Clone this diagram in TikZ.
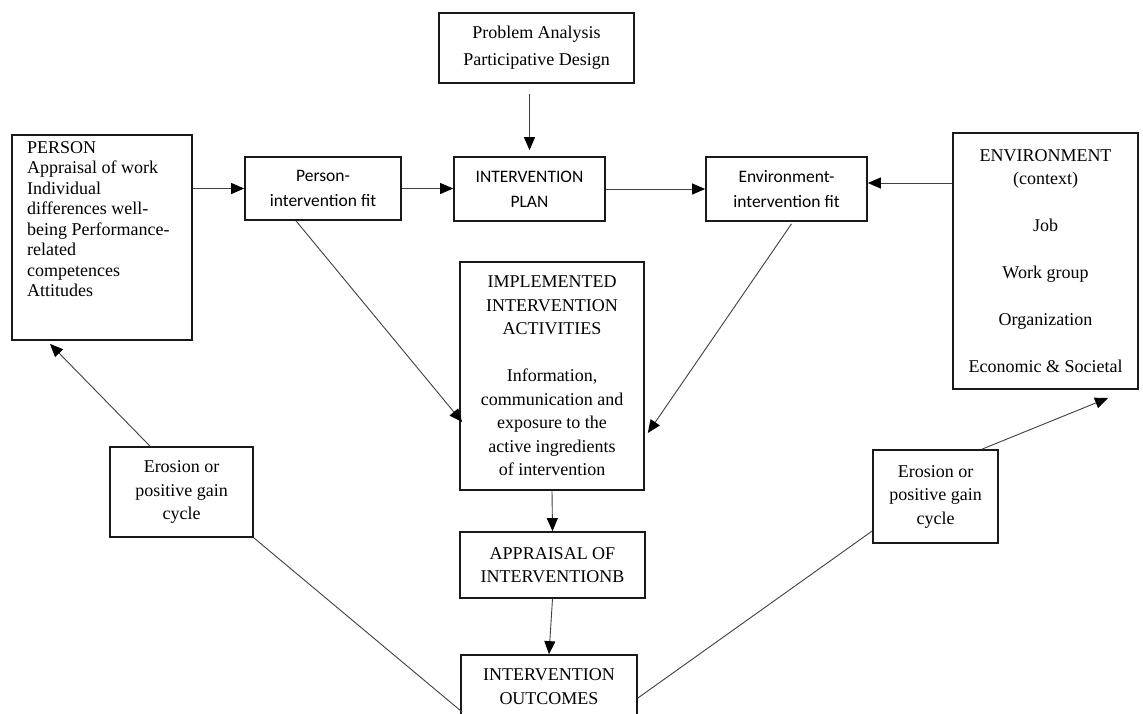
\documentclass[tikz,border=0pt]{standalone}
\usepackage{fontspec}
\setmainfont{Liberation Serif}
\newfontfamily\calib{Carlito}
\usetikzlibrary{arrows.meta,calc}
\begin{document}
\begin{tikzpicture}[x=1pt,y=-1pt,
  box/.style={draw=black!90, line width=1.7pt, align=center, inner sep=0pt,
    font=\fontsize{18}{23.5}\selectfont},
  sbox/.style={box, font=\calib\fontsize{17.5}{25}\selectfont},
  txt/.style={align=center, inner sep=0pt, font=\fontsize{18}{23.5}\selectfont},
  conn/.style={draw=black!75, line width=0.9pt},
  arr/.style={conn, -{Triangle[length=13pt,width=11pt,fill=black,color=black]}},
]
\clip (0,0) rectangle (1143,713);
\fill[white] (0,0) rectangle (1143,713);

% boxes
\node[box, minimum width=195pt, minimum height=70pt, font=\fontsize{18}{27}\selectfont] (top) at (536.5,48) {Problem Analysis\\Participative Design};
\node[box, minimum width=180pt, minimum height=205pt] (person) at (102,237.5) {};
\node[anchor=north west, align=left, inner sep=0pt, font=\fontsize{18}{20.5}\selectfont] (ptext) at (27,141) {PERSON\\Appraisal of work\\Individual\\differences well-\\being Performance-\\related\\competences\\Attitudes};
\node[sbox, minimum width=156pt, minimum height=63pt] (pfit) at (323,188.5) {Person-\\intervention fit};
\node[sbox, minimum width=151pt, minimum height=64pt] (plan) at (529.5,189) {INTERVENTION\\PLAN};
\node[sbox, minimum width=161pt, minimum height=64pt] (envfit) at (786.5,189) {Environment-\\intervention fit};
\node[box, minimum width=185pt, minimum height=256pt] (env) at (1045.5,261) {ENVIRONMENT\\(context)\\[23.5pt]Job\\[23.5pt]Work group\\[23.5pt]Organization\\[23.5pt]Economic \& Societal};
\node[box, minimum width=184pt, minimum height=228pt] (impl) at (552,376) {IMPLEMENTED\\INTERVENTION\\ACTIVITIES\\[23.5pt]Information,\\communication and\\exposure to the\\active ingredients\\of intervention};
\node[box, minimum width=185pt, minimum height=66pt] (appr) at (552.5,565) {APPRAISAL OF\\INTERVENTIONB};
\node[box, minimum width=176pt, minimum height=80pt] (outc) at (549,695) {};
\node[txt] (otext) at (549,686.5) {INTERVENTION\\OUTCOMES};
\node[box, minimum width=143pt, minimum height=90pt] (erosL) at (181.5,492) {Erosion or\\positive gain\\cycle};
\node[box, minimum width=125pt, minimum height=93pt] (erosR) at (935.5,496.5) {Erosion or\\positive gain\\cycle};

% helper coordinates
\coordinate (topA) at ($(top.south)+(0,10)$);
\coordinate (envA) at ($(envfit.east)+(0,-6)$);
\coordinate (pfitB) at ($(pfit.south)+(-27,0)$);
\coordinate (implL) at ($(impl.west)+(3,46)$);
\coordinate (envfitB) at ($(envfit.south)+(5,2)$);
\coordinate (implR) at ($(impl.east)+(3,57)$);
\coordinate (erosLT) at ($(erosL.north)+(-31.5,0)$);
\coordinate (personB) at ($(person.south)+(-52,3)$);
\coordinate (outcL) at ($(outc.west)+(2,17)$);
\coordinate (outcR) at ($(outc.east)+(0,3)$);
\coordinate (erosRL) at ($(erosR.west)+(0,34.5)$);
\coordinate (erosRT) at ($(erosR.north)+(46.5,0)$);
\coordinate (envTip) at (1108,398);

% connectors
\draw[arr] (topA -| plan.north) -- ($(plan.north)+(0,-6)$);
\draw[arr] (person.east |- pfit) -- (pfit.west);
\draw[arr] (pfit.east) -- (pfit.east -| plan.west);
\draw[arr] (plan.east) -- (plan.east -| envfit.west);
\draw[arr] (envA -| env.west) -- (envA);
\draw[arr] (pfitB) -- (implL);
\draw[arr] (envfitB) -- (implR);
\draw[arr] (impl.south) -- (appr.north);
\draw[arr] (appr.south) -- (outc.north);
\draw[arr] (erosLT) -- (personB);
\draw[conn] (erosL.south east) -- (outcL);
\draw[conn] (outcR) -- (erosRL);
\draw[arr] (erosRT) -- (envTip);
\end{tikzpicture}
\end{document}
